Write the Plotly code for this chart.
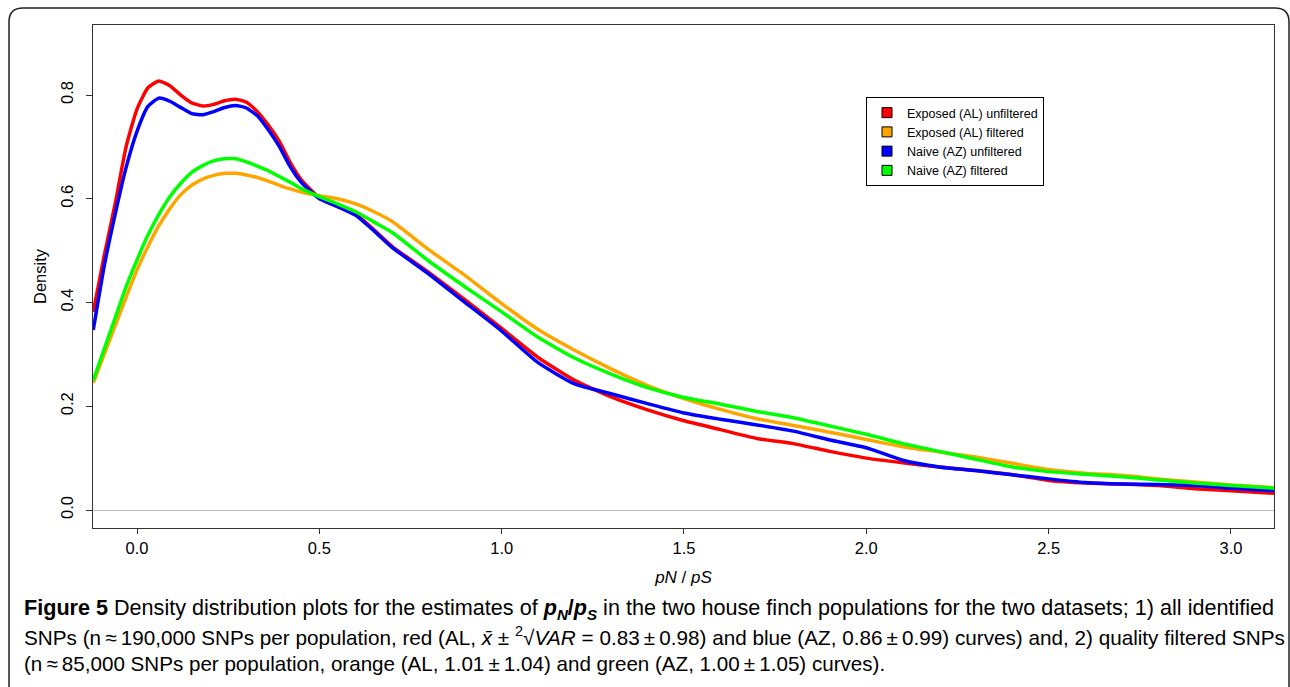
import plotly.graph_objects as go

# ---------------- data ----------------
x_vals = [-0.12, -0.09, -0.06, -0.03, 0.0, 0.03, 0.06, 0.09, 0.12, 0.15, 0.18, 0.21,
          0.24, 0.27, 0.30, 0.33, 0.36, 0.39, 0.42, 0.45, 0.5, 0.55, 0.6, 0.65, 0.7,
          0.8, 0.9, 1.0, 1.1, 1.2, 1.3, 1.4, 1.5, 1.6, 1.7, 1.8, 1.9, 2.0, 2.1, 2.2,
          2.3, 2.4, 2.5, 2.6, 2.7, 2.8, 2.9, 3.0, 3.12]

al_unfiltered = [0.382, 0.49, 0.59, 0.70, 0.773, 0.814, 0.827, 0.818, 0.800, 0.785, 0.779, 0.782,
                 0.789, 0.792, 0.786, 0.768, 0.742, 0.711, 0.670, 0.637, 0.602, 0.585, 0.570, 0.540, 0.508,
                 0.458, 0.405, 0.350, 0.294, 0.250, 0.218, 0.193, 0.172, 0.155, 0.138, 0.128, 0.113, 0.100, 0.091, 0.083,
                 0.076, 0.068, 0.057, 0.052, 0.050, 0.047, 0.041, 0.037, 0.032]

al_filtered = [0.245, 0.30, 0.355, 0.41, 0.463, 0.508, 0.548, 0.581, 0.608, 0.626, 0.638, 0.645,
               0.649, 0.649, 0.646, 0.641, 0.634, 0.626, 0.619, 0.613, 0.606, 0.600, 0.590, 0.575, 0.556,
               0.502, 0.452, 0.398, 0.348, 0.308, 0.272, 0.240, 0.215, 0.194, 0.176, 0.163, 0.150, 0.136, 0.122, 0.112,
               0.102, 0.090, 0.078, 0.071, 0.067, 0.060, 0.054, 0.048, 0.043]

az_unfiltered = [0.347, 0.47, 0.57, 0.66, 0.730, 0.778, 0.794, 0.788, 0.776, 0.764, 0.762, 0.768,
                 0.776, 0.780, 0.775, 0.760, 0.733, 0.701, 0.662, 0.632, 0.600, 0.585, 0.568, 0.538, 0.506,
                 0.455, 0.400, 0.345, 0.284, 0.243, 0.224, 0.205, 0.187, 0.175, 0.164, 0.152, 0.135, 0.120, 0.096, 0.083,
                 0.076, 0.068, 0.060, 0.053, 0.050, 0.049, 0.047, 0.042, 0.037]

az_filtered = [0.250, 0.31, 0.37, 0.43, 0.482, 0.530, 0.570, 0.604, 0.630, 0.651, 0.664, 0.673,
               0.677, 0.677, 0.671, 0.663, 0.654, 0.643, 0.632, 0.620, 0.604, 0.590, 0.575, 0.555, 0.535,
               0.480, 0.430, 0.382, 0.333, 0.293, 0.262, 0.236, 0.217, 0.204, 0.190, 0.178, 0.162, 0.146, 0.128, 0.113,
               0.098, 0.083, 0.074, 0.069, 0.064, 0.058, 0.052, 0.047, 0.042]

series_names = ["Exposed (AL) unfiltered", "Exposed (AL) filtered",
                "Naive (AZ) unfiltered", "Naive (AZ) filtered"]
series_values = [al_unfiltered, al_filtered, az_unfiltered, az_filtered]
series_colors = ["#FF0000", "#FFA500", "#0000FF", "#00FF00"]

x_ticks = [0.0, 0.5, 1.0, 1.5, 2.0, 2.5, 3.0]
x_tick_labels = ["0.0", "0.5", "1.0", "1.5", "2.0", "2.5", "3.0"]
y_ticks = [0.0, 0.2, 0.4, 0.6, 0.8]
y_tick_labels = ["0.0", "0.2", "0.4", "0.6", "0.8"]

caption_lines = [
    "<b>Figure 5</b> Density distribution plots for the estimates of <b><i>p<sub>N</sub></i>/<i>p<sub>S</sub></i></b> in the two house finch populations for the two datasets; 1) all identified",
    "SNPs (n\u2009\u2248\u2009190,000 SNPs per population, red (AL, <i>x\u0304</i> \u00b1 <sup>2</sup>\u221a<i>VAR</i> = 0.83\u2009\u00b1\u20090.98) and blue (AZ, 0.86\u2009\u00b1\u20090.99) curves) and, 2) quality filtered SNPs",
    "(n\u2009\u2248\u200985,000 SNPs per population, orange (AL, 1.01\u2009\u00b1\u20091.04) and green (AZ, 1.00\u2009\u00b1\u20091.05) curves).",
]
caption_sizes = [21.6, 20.7, 20.6]

# ---------------- layout geometry ----------------
W, H = 1290, 687
L, R, T, B = 93, 16, 25, 159
pw, ph = W - L - R, H - T - B

def px_x(px):
    return (px - L) / pw

def px_y(py):
    return (H - B - py) / ph

FONT = "Liberation Sans, Arial, sans-serif"

fig = go.Figure()

for name, vals, col in zip(series_names, series_values, series_colors):
    fig.add_trace(go.Scatter(x=x_vals, y=vals, mode="lines", name=name,
                             line=dict(color=col, width=3.5, shape="spline", smoothing=0.5),
                             showlegend=False, hoverinfo="skip"))

for name, col in zip(series_names, series_colors):
    fig.add_trace(go.Scatter(x=[None], y=[None], mode="markers", name=name,
                             marker=dict(symbol="square", size=10, color=col,
                                         line=dict(color="black", width=1)),
                             showlegend=True))

fig.update_layout(
    width=W, height=H,
    margin=dict(l=L, r=R, t=T, b=B),
    paper_bgcolor="white", plot_bgcolor="white",
    font=dict(family=FONT, color="black", size=16),
    showlegend=True,
    legend=dict(x=px_x(866), y=px_y(97), xanchor="left", yanchor="top",
                bordercolor="black", borderwidth=1, bgcolor="white",
                font=dict(family=FONT, size=12.5, color="black"),
                tracegroupgap=0, itemwidth=30),
    xaxis=dict(range=[-0.1207, 3.118], tickmode="array", tickvals=x_ticks, ticktext=x_tick_labels,
               showgrid=False, zeroline=False, showline=True, linecolor="#333333", linewidth=1,
               mirror=True, ticks="outside", ticklen=5, tickcolor="#333333",
               tickfont=dict(size=16.5, family=FONT),
               title=dict(text="<i>pN</i> / <i>pS</i>", font=dict(size=17, family=FONT), standoff=15)),
    yaxis=dict(range=[-0.0347, 0.935], tickmode="array", tickvals=y_ticks, ticktext=y_tick_labels,
               showgrid=False, zeroline=True, zerolinecolor="#BEBEBE", zerolinewidth=1,
               showline=True, linecolor="#333333", linewidth=1, mirror=True,
               ticks="outside", ticklen=6, tickcolor="#333333", tickangle=-90,
               tickfont=dict(size=16.5, family=FONT), ticklabelstandoff=6,
               title=dict(text="Density", font=dict(size=16.5, family=FONT), standoff=7)),
)

# outer rounded frame
x0, x1 = px_x(9), px_x(1289)
y0, y1 = px_y(8), px_y(688)
rx, ry = 14 / pw, 14 / ph
path = (f"M {x0},{y1} L {x0},{y0 - ry} Q {x0},{y0} {x0 + rx},{y0} "
        f"L {x1 - rx},{y0} Q {x1},{y0} {x1},{y0 - ry} L {x1},{y1}")
fig.add_shape(type="path", path=path, xref="paper", yref="paper",
              line=dict(color="#222222", width=1.5), layer="above")

# caption
for i, (line, fs) in enumerate(zip(caption_lines, caption_sizes)):
    fig.add_annotation(text=line, xref="paper", yref="paper",
                       x=px_x(22), y=px_y(609 + 27 * i), xanchor="left", yanchor="middle",
                       showarrow=False, align="left",
                       font=dict(family=FONT, size=fs, color="black"))

fig.write_html("out.html", config={"displayModeBar": False},
               post_script="document.body.style.margin='0px';")
